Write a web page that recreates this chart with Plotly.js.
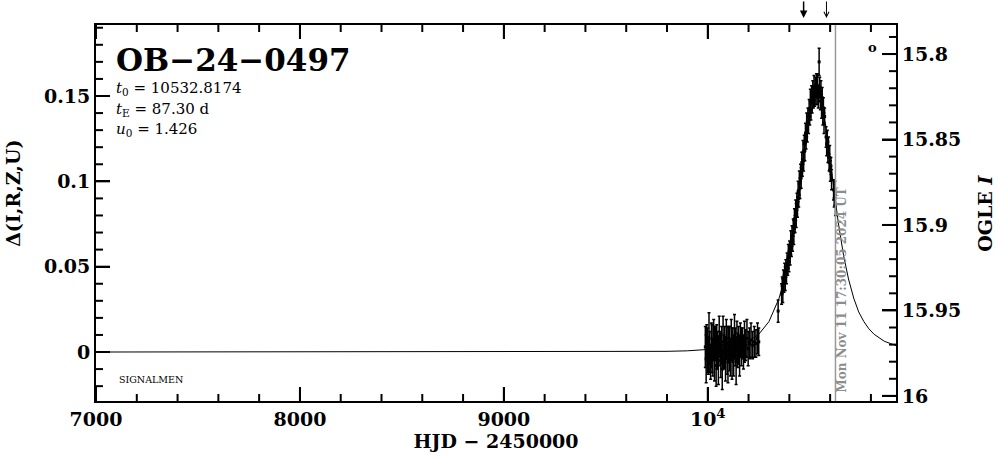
<!DOCTYPE html>
<html>
<head>
<meta charset="utf-8">
<script src="https://cdn.plot.ly/plotly-3.0.1.min.js"></script>
</head>
<body style="margin:0">
<div id="chart"></div>
<script>
// ---- Data ----
const modelT = [7000, 8000, 9000, 9500, 9700, 9800, 9900, 10000, 10050, 10100, 10150, 10200, 10250, 10300, 10350, 10375, 10400, 10425, 10450, 10475, 10500, 10515, 10532.8, 10550, 10565.6, 10590, 10615.6, 10640, 10665.6, 10690, 10715.6, 10740, 10765.6, 10790, 10815.6, 10840, 10865.6, 10895, 10923];
const modelD = [0, 0, 0.0000, 0.0001, 0.0003, 0.0004, 0.0007, 0.0014, 0.0019, 0.0027, 0.0040, 0.0063, 0.0104, 0.0178, 0.0316, 0.0424, 0.0568, 0.0753, 0.0975, 0.1211, 0.1414, 0.1494, 0.1531, 0.1503, 0.1414, 0.1222, 0.0975, 0.0758, 0.0568, 0.0428, 0.0316, 0.0235, 0.0178, 0.0136, 0.0104, 0.0082, 0.0063, 0.0050, 0.0038];

const baseT = [9988, 9992, 9995, 9999, 10003, 10006, 10010, 10014, 10018, 10021, 10025, 10029, 10033, 10037, 10041, 10044, 10048, 10052, 10056, 10060, 10064, 10068, 10071, 10075, 10079, 10083, 10087, 10091, 10095, 10099, 10103, 10107, 10111, 10115, 10119, 10123, 10127, 10131, 10135, 10139, 10143, 10147, 10151, 10156, 10160, 10165, 10170, 10175, 10180, 10186, 10192, 10198, 10205, 10212, 10220, 10228, 10236, 10244, 10250, 10345];
const baseD = [0.003, -0.004, 0.006, 0.001, -0.002, 0.008, 0.000, -0.006, 0.004, 0.002, -0.003, 0.007, -0.001, 0.005, -0.008, 0.003, 0.001, -0.005, 0.009, 0.002, -0.002, 0.004, -0.010, 0.006, 0.000, 0.003, -0.004, 0.008, 0.001, -0.006, 0.005, 0.002, -0.003, 0.007, -0.001, 0.004, -0.002, 0.009, 0.003, -0.005, 0.006, 0.001, 0.004, -0.002, 0.007, 0.003, 0.005, 0.000, 0.006, 0.004, 0.008, 0.002, 0.005, 0.007, 0.004, 0.006, 0.005, 0.008, 0.006, 0.024];
const baseE = [0.012, 0.014, 0.010, 0.013, 0.011, 0.015, 0.012, 0.010, 0.013, 0.014, 0.011, 0.012, 0.016, 0.010, 0.012, 0.013, 0.011, 0.014, 0.012, 0.010, 0.013, 0.011, 0.012, 0.015, 0.010, 0.012, 0.013, 0.011, 0.014, 0.012, 0.010, 0.013, 0.011, 0.012, 0.015, 0.010, 0.012, 0.013, 0.011, 0.014, 0.012, 0.010, 0.011, 0.012, 0.010, 0.011, 0.009, 0.010, 0.012, 0.009, 0.011, 0.010, 0.009, 0.010, 0.008, 0.009, 0.008, 0.009, 0.008, 0.0065];

const eventT = [10362, 10365, 10368, 10371, 10374, 10377, 10380, 10383, 10386, 10389, 10392, 10395, 10398, 10401, 10404, 10407, 10410, 10413, 10416, 10419, 10422, 10425, 10428, 10431, 10434, 10437, 10440, 10443, 10446, 10449, 10452, 10455, 10458, 10461, 10464, 10467, 10470, 10473, 10476, 10479, 10482, 10485, 10488, 10491, 10494, 10497, 10500, 10503, 10506, 10509, 10512, 10515, 10518, 10521, 10524, 10527, 10530, 10533, 10536, 10539, 10542, 10546, 10549, 10552, 10555, 10558, 10561, 10564, 10567, 10570, 10573, 10580, 10583, 10586, 10589, 10592, 10595, 10598, 10601, 10604, 10607, 10617, 10620, 10623, 10626];
const eventD = [0.034, 0.039, 0.036, 0.042, 0.040, 0.046, 0.043, 0.049, 0.046, 0.052, 0.050, 0.056, 0.053, 0.060, 0.057, 0.064, 0.061, 0.068, 0.065, 0.073, 0.070, 0.078, 0.075, 0.083, 0.080, 0.088, 0.085, 0.094, 0.090, 0.099, 0.096, 0.105, 0.102, 0.111, 0.108, 0.117, 0.112, 0.122, 0.118, 0.128, 0.124, 0.133, 0.129, 0.138, 0.134, 0.142, 0.138, 0.147, 0.142, 0.151, 0.146, 0.153, 0.148, 0.155, 0.150, 0.156, 0.151, 0.157, 0.150, 0.156, 0.149, 0.170, 0.155, 0.147, 0.153, 0.144, 0.149, 0.138, 0.143, 0.134, 0.138, 0.126, 0.122, 0.125, 0.117, 0.120, 0.111, 0.114, 0.106, 0.109, 0.101, 0.095, 0.090, 0.093, 0.086];
const eventE = [0.006, 0.005, 0.007, 0.006, 0.005, 0.006, 0.007, 0.005, 0.006, 0.006, 0.005, 0.007, 0.006, 0.005, 0.006, 0.007, 0.005, 0.006, 0.006, 0.005, 0.007, 0.006, 0.005, 0.006, 0.007, 0.005, 0.006, 0.006, 0.005, 0.007, 0.006, 0.005, 0.006, 0.006, 0.005, 0.007, 0.006, 0.005, 0.006, 0.006, 0.005, 0.007, 0.006, 0.005, 0.006, 0.006, 0.005, 0.007, 0.006, 0.005, 0.006, 0.006, 0.005, 0.007, 0.006, 0.005, 0.006, 0.006, 0.005, 0.007, 0.006, 0.008, 0.006, 0.005, 0.006, 0.007, 0.006, 0.005, 0.006, 0.006, 0.005, 0.006, 0.007, 0.005, 0.006, 0.006, 0.005, 0.007, 0.006, 0.005, 0.006, 0.006, 0.005, 0.007, 0.006];

// ---- Axis tick values and labels ----
const xTickVals = [7000, 8000, 9000, 10000];
const xTickText = ['7000', '8000', '9000', '10<sup>4</sup>'];
const xMinorVals = [7200, 7400, 7600, 7800, 8200, 8400, 8600, 8800, 9200, 9400, 9600, 9800, 10200, 10400, 10600, 10800];
const dTickVals = [0, 0.05, 0.1, 0.15];
const dMinorVals = [-0.02, -0.01, 0.01, 0.02, 0.03, 0.04, 0.06, 0.07, 0.08, 0.09, 0.11, 0.12, 0.13, 0.14, 0.16, 0.17, 0.18, 0.19];
const magTickVals = [15.8, 15.85, 15.9, 15.95, 16];
const magTickText = ['15.8', '15.85', '15.9', '15.95', '16'];
const magMinorVals = [15.79, 15.81, 15.82, 15.83, 15.84, 15.86, 15.87, 15.88, 15.89, 15.91, 15.92, 15.93, 15.94, 15.96, 15.97, 15.98, 15.99];
const arrowDates = [10470, 10582];
const nowDate = 10626.2;
const nowLabel = 'Mon Nov 11 17:30:05 2024 UT';
const eventName = 'OB\u221224\u22120497';
const paramLines = ['<i>t</i><sub>0</sub> = 10532.8174', '<i>t</i><sub>E</sub> = 87.30 d', '<i>u</i><sub>0</sub> = 1.426'];

// ---- Plot ----
const F = 'DejaVu Serif, serif';
const xRange = [7000, 10923];
const deltaRange = [-0.0287, 0.1916];
const magRange = [16.003, 15.783];
const W = 999, H = 459, M = {l: 96, r: 103, t: 25, b: 58};
const plotW = W - M.l - M.r, plotH = H - M.t - M.b;

const traces = [
  {x: modelT, y: modelD, type: 'scatter', mode: 'lines', line: {color: 'black', width: 1}, hoverinfo: 'skip'},
  {x: baseT.concat(eventT), y: baseD.concat(eventD), type: 'scatter', mode: 'markers',
   marker: {color: 'black', size: 3, symbol: 'square'},
   error_y: {type: 'data', array: baseE.concat(eventE), visible: true, color: 'black', thickness: 1.5, width: 1.5}},
  // empty carrier so that the right-hand magnitude axis is drawn
  {x: [null], y: [null], xaxis: 'x', yaxis: 'y2', type: 'scatter', mode: 'markers', hoverinfo: 'skip'}
];

const maj = {ticks: 'inside', ticklen: 14, tickwidth: 2, tickcolor: '#000000'};
const base = {showgrid: false, zeroline: false, showline: true, linecolor: '#000000', linewidth: 2};
const tf = {family: F, size: 19, weight: 'bold', color: '#000000'};

// Tick marks also drawn as shapes placed through the axes' own scales
const shapes = [];
const tickLine = {color: '#000000', width: 2};
const majX = 14 / plotH, minX = 7 / plotH, majY = 14 / plotW, minY = 7 / plotW;
xTickVals.forEach(v => {
  shapes.push({type: 'line', xref: 'x', yref: 'paper', x0: v, x1: v, y0: 0, y1: majX, line: tickLine});
  shapes.push({type: 'line', xref: 'x', yref: 'paper', x0: v, x1: v, y0: 1, y1: 1 - majX, line: tickLine});
});
xMinorVals.forEach(v => {
  shapes.push({type: 'line', xref: 'x', yref: 'paper', x0: v, x1: v, y0: 0, y1: minX, line: tickLine});
  shapes.push({type: 'line', xref: 'x', yref: 'paper', x0: v, x1: v, y0: 1, y1: 1 - minX, line: tickLine});
});
dTickVals.forEach(v => shapes.push({type: 'line', xref: 'paper', yref: 'y', x0: 0, x1: majY, y0: v, y1: v, line: tickLine}));
dMinorVals.forEach(v => shapes.push({type: 'line', xref: 'paper', yref: 'y', x0: 0, x1: minY, y0: v, y1: v, line: tickLine}));
magTickVals.forEach(v => shapes.push({type: 'line', xref: 'paper', yref: 'y2', x0: 1, x1: 1 - majY, y0: v, y1: v, line: tickLine}));
magMinorVals.forEach(v => shapes.push({type: 'line', xref: 'paper', yref: 'y2', x0: 1, x1: 1 - minY, y0: v, y1: v, line: tickLine}));
shapes.push({type: 'line', xref: 'x', yref: 'paper', x0: nowDate, x1: nowDate, y0: 0, y1: 1, line: {color: '#999999', width: 1.5}});

const annotations = [
  {text: eventName, xref: 'paper', yref: 'paper', x: 0.022, y: 0.907, xanchor: 'left', yanchor: 'middle', showarrow: false,
   font: {family: F, size: 31, color: 'black', weight: 'bold'}},
  {text: 'SIGNALMEN', xref: 'paper', yref: 'paper', x: 0.026, y: 0.056, xanchor: 'left', yanchor: 'middle', showarrow: false,
   font: {family: F, size: 9.5, color: 'black'}},
  {text: 'o', xref: 'paper', yref: 'paper', x: 0.97, y: 0.94, xanchor: 'center', yanchor: 'middle', showarrow: false,
   font: {family: F, size: 13, color: 'black', weight: 'bold'}},
  {text: '\u0394(I,R,Z,U)', xref: 'paper', yref: 'paper', x: -0.104, y: 0.553, xanchor: 'center', yanchor: 'middle', textangle: -90, showarrow: false,
   font: {family: F, size: 19, color: 'black', weight: 'bold'}},
  {text: 'OGLE <i>I</i>', xref: 'paper', yref: 'paper', x: 1.111, y: 0.5, xanchor: 'center', yanchor: 'middle', textangle: -90, showarrow: false,
   font: {family: F, size: 19, color: 'black', weight: 'bold'}},
  {text: nowLabel, xref: 'x', yref: 'paper', x: nowDate, y: 0.295, xshift: 7, xanchor: 'center', yanchor: 'middle', textangle: -90, showarrow: false,
   font: {family: F, size: 12, color: '#8c8c8c', weight: 'bold'}}
];
const lineYs = [0.832, 0.774, 0.721];
paramLines.forEach((t, i) => annotations.push({text: t, xref: 'paper', yref: 'paper', x: 0.022, y: lineYs[i], xanchor: 'left', yanchor: 'middle', showarrow: false,
  font: {family: F, size: 15, color: 'black'}}));
arrowDates.forEach((d, i) => annotations.push({text: '', xref: 'x', yref: 'paper', x: d, y: 1.0186, ax: 0, ay: -19, showarrow: true,
  arrowhead: i === 0 ? 2 : 5, arrowsize: 1, arrowwidth: i === 0 ? 1.5 : 1, arrowcolor: 'black'}));

const layout = {
  width: W, height: H,
  margin: M,
  paper_bgcolor: 'white', plot_bgcolor: 'white',
  showlegend: false,
  font: {family: F, color: 'black'},
  xaxis: Object.assign({}, base, maj, {
    range: xRange, mirror: 'ticks', tickmode: 'array', tickvals: xTickVals, ticktext: xTickText,
    tickfont: tf,
    title: {text: 'HJD \u2212 2450000', font: {family: F, size: 19, weight: 'bold'}, standoff: 2}
  }),
  yaxis: Object.assign({}, base, maj, {
    range: deltaRange, tickmode: 'array', tickvals: dTickVals, tickfont: tf
  }),
  yaxis2: Object.assign({}, base, maj, {
    overlaying: 'y', anchor: 'x', side: 'right', range: magRange, tickmode: 'array', tickvals: magTickVals, ticktext: magTickText,
    tickfont: tf
  }),
  shapes: shapes,
  annotations: annotations
};

Plotly.newPlot('chart', traces, layout, {staticPlot: true, displayModeBar: false});
</script>
</body>
</html>
